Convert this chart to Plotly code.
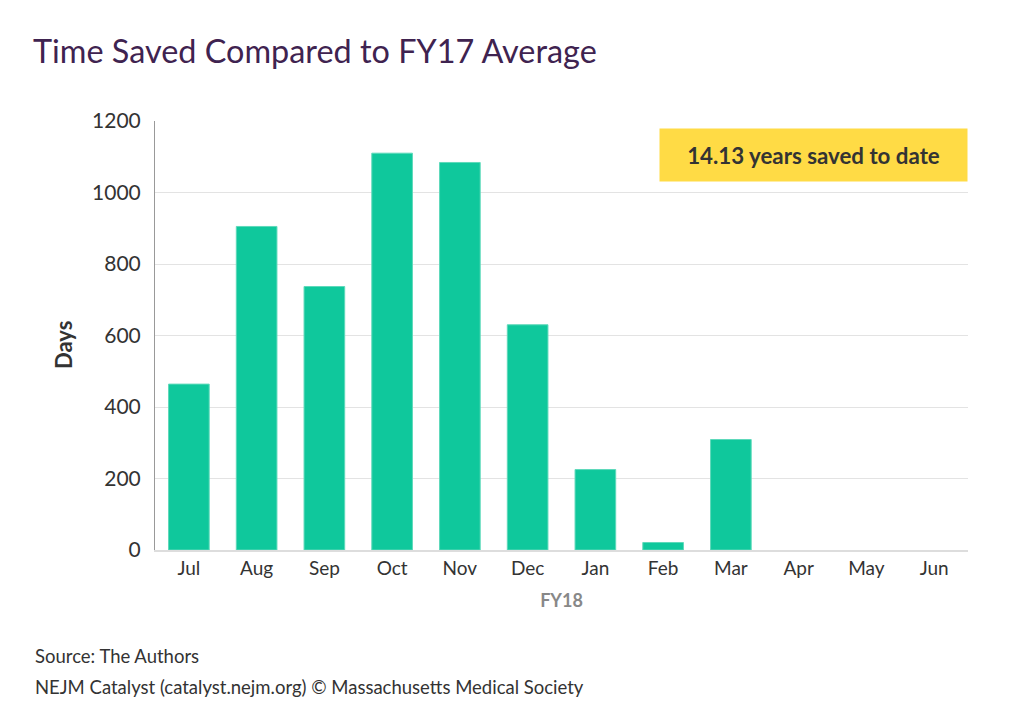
import plotly.graph_objects as go

months = ["Jul", "Aug", "Sep", "Oct", "Nov", "Dec", "Jan", "Feb", "Mar", "Apr", "May", "Jun"]
days_saved = [464, 905, 737, 1110, 1084, 630, 225, 21, 309, None, None, None]
y_ticks = [0, 200, 400, 600, 800, 1000, 1200]

FONT = "Lato"
TEXT = "#333333"

# page is drawn with an 8px body offset, so positions below are shifted by 8
L, R, T, B = 147, 64, 113, 180
PW = 1024 - L - R
PH = 722 - T - B

fig = go.Figure(
    data=[
        go.Bar(
            x=months,
            y=days_saved,
            marker=dict(color="#0FC89C", line=dict(color="#5ED9BA", width=1)),
            hoverinfo="x+y",
        )
    ]
)

fig.update_layout(
    width=1024,
    height=722,
    margin=dict(l=L, r=R, t=T, b=B),
    paper_bgcolor="white",
    plot_bgcolor="white",
    bargap=0.4,
    showlegend=False,
    font=dict(family=FONT, color=TEXT),
    title=dict(
        text="Time Saved Compared to FY17 Average",
        x=25 / 1024,
        xanchor="left",
        y=1 - 44 / 722,
        yanchor="middle",
        font=dict(family=FONT, size=32.4, color="#3F2350"),
    ),
    xaxis=dict(
        categoryorder="array",
        categoryarray=months,
        showgrid=False,
        showline=True,
        linecolor="#DDDDDD",
        linewidth=2,
        ticks="",
        tickfont=dict(size=19, color=TEXT),
        title=dict(text="<b>FY18</b>", font=dict(size=18, color="#888888"), standoff=17),
    ),
    yaxis=dict(
        range=[0, 1200],
        tickvals=y_ticks,
        showgrid=True,
        gridcolor="#E3E3E3",
        gridwidth=1,
        zeroline=False,
        showline=True,
        linecolor="#999999",
        linewidth=1,
        ticks="",
        ticklabelstandoff=9,
        tickfont=dict(size=21, color=TEXT),
    ),
)

# y axis title, placed a little below the middle like the original
fig.add_annotation(
    text="<b>Days</b>",
    textangle=-90,
    xref="paper",
    yref="paper",
    x=(55 - L) / PW,
    y=((722 - B) - 337) / PH,
    xanchor="center",
    yanchor="middle",
    showarrow=False,
    font=dict(family=FONT, size=22, color=TEXT),
)

# yellow call-out box
fig.add_annotation(
    text="<b>14.13 years saved to date</b>",
    xref="paper",
    yref="paper",
    x=1,
    y=1 - 7 / PH,
    xanchor="right",
    yanchor="top",
    showarrow=False,
    font=dict(family=FONT, size=22.3, color=TEXT),
    bgcolor="#FFDB45",
    width=291,
    height=36,
    borderpad=8,
)

fig.add_annotation(
    text="Source: The Authors",
    xref="paper",
    yref="paper",
    x=(25 - L) / PW,
    y=-(648 - (722 - B)) / PH,
    xanchor="left",
    yanchor="middle",
    showarrow=False,
    font=dict(family=FONT, size=18.5, color=TEXT),
)
fig.add_annotation(
    text="NEJM Catalyst (catalyst.nejm.org) © Massachusetts Medical Society",
    xref="paper",
    yref="paper",
    x=(25 - L) / PW,
    y=-(679 - (722 - B)) / PH,
    xanchor="left",
    yanchor="middle",
    showarrow=False,
    font=dict(family=FONT, size=18.5, color=TEXT),
)

fig.write_html("out.html")
